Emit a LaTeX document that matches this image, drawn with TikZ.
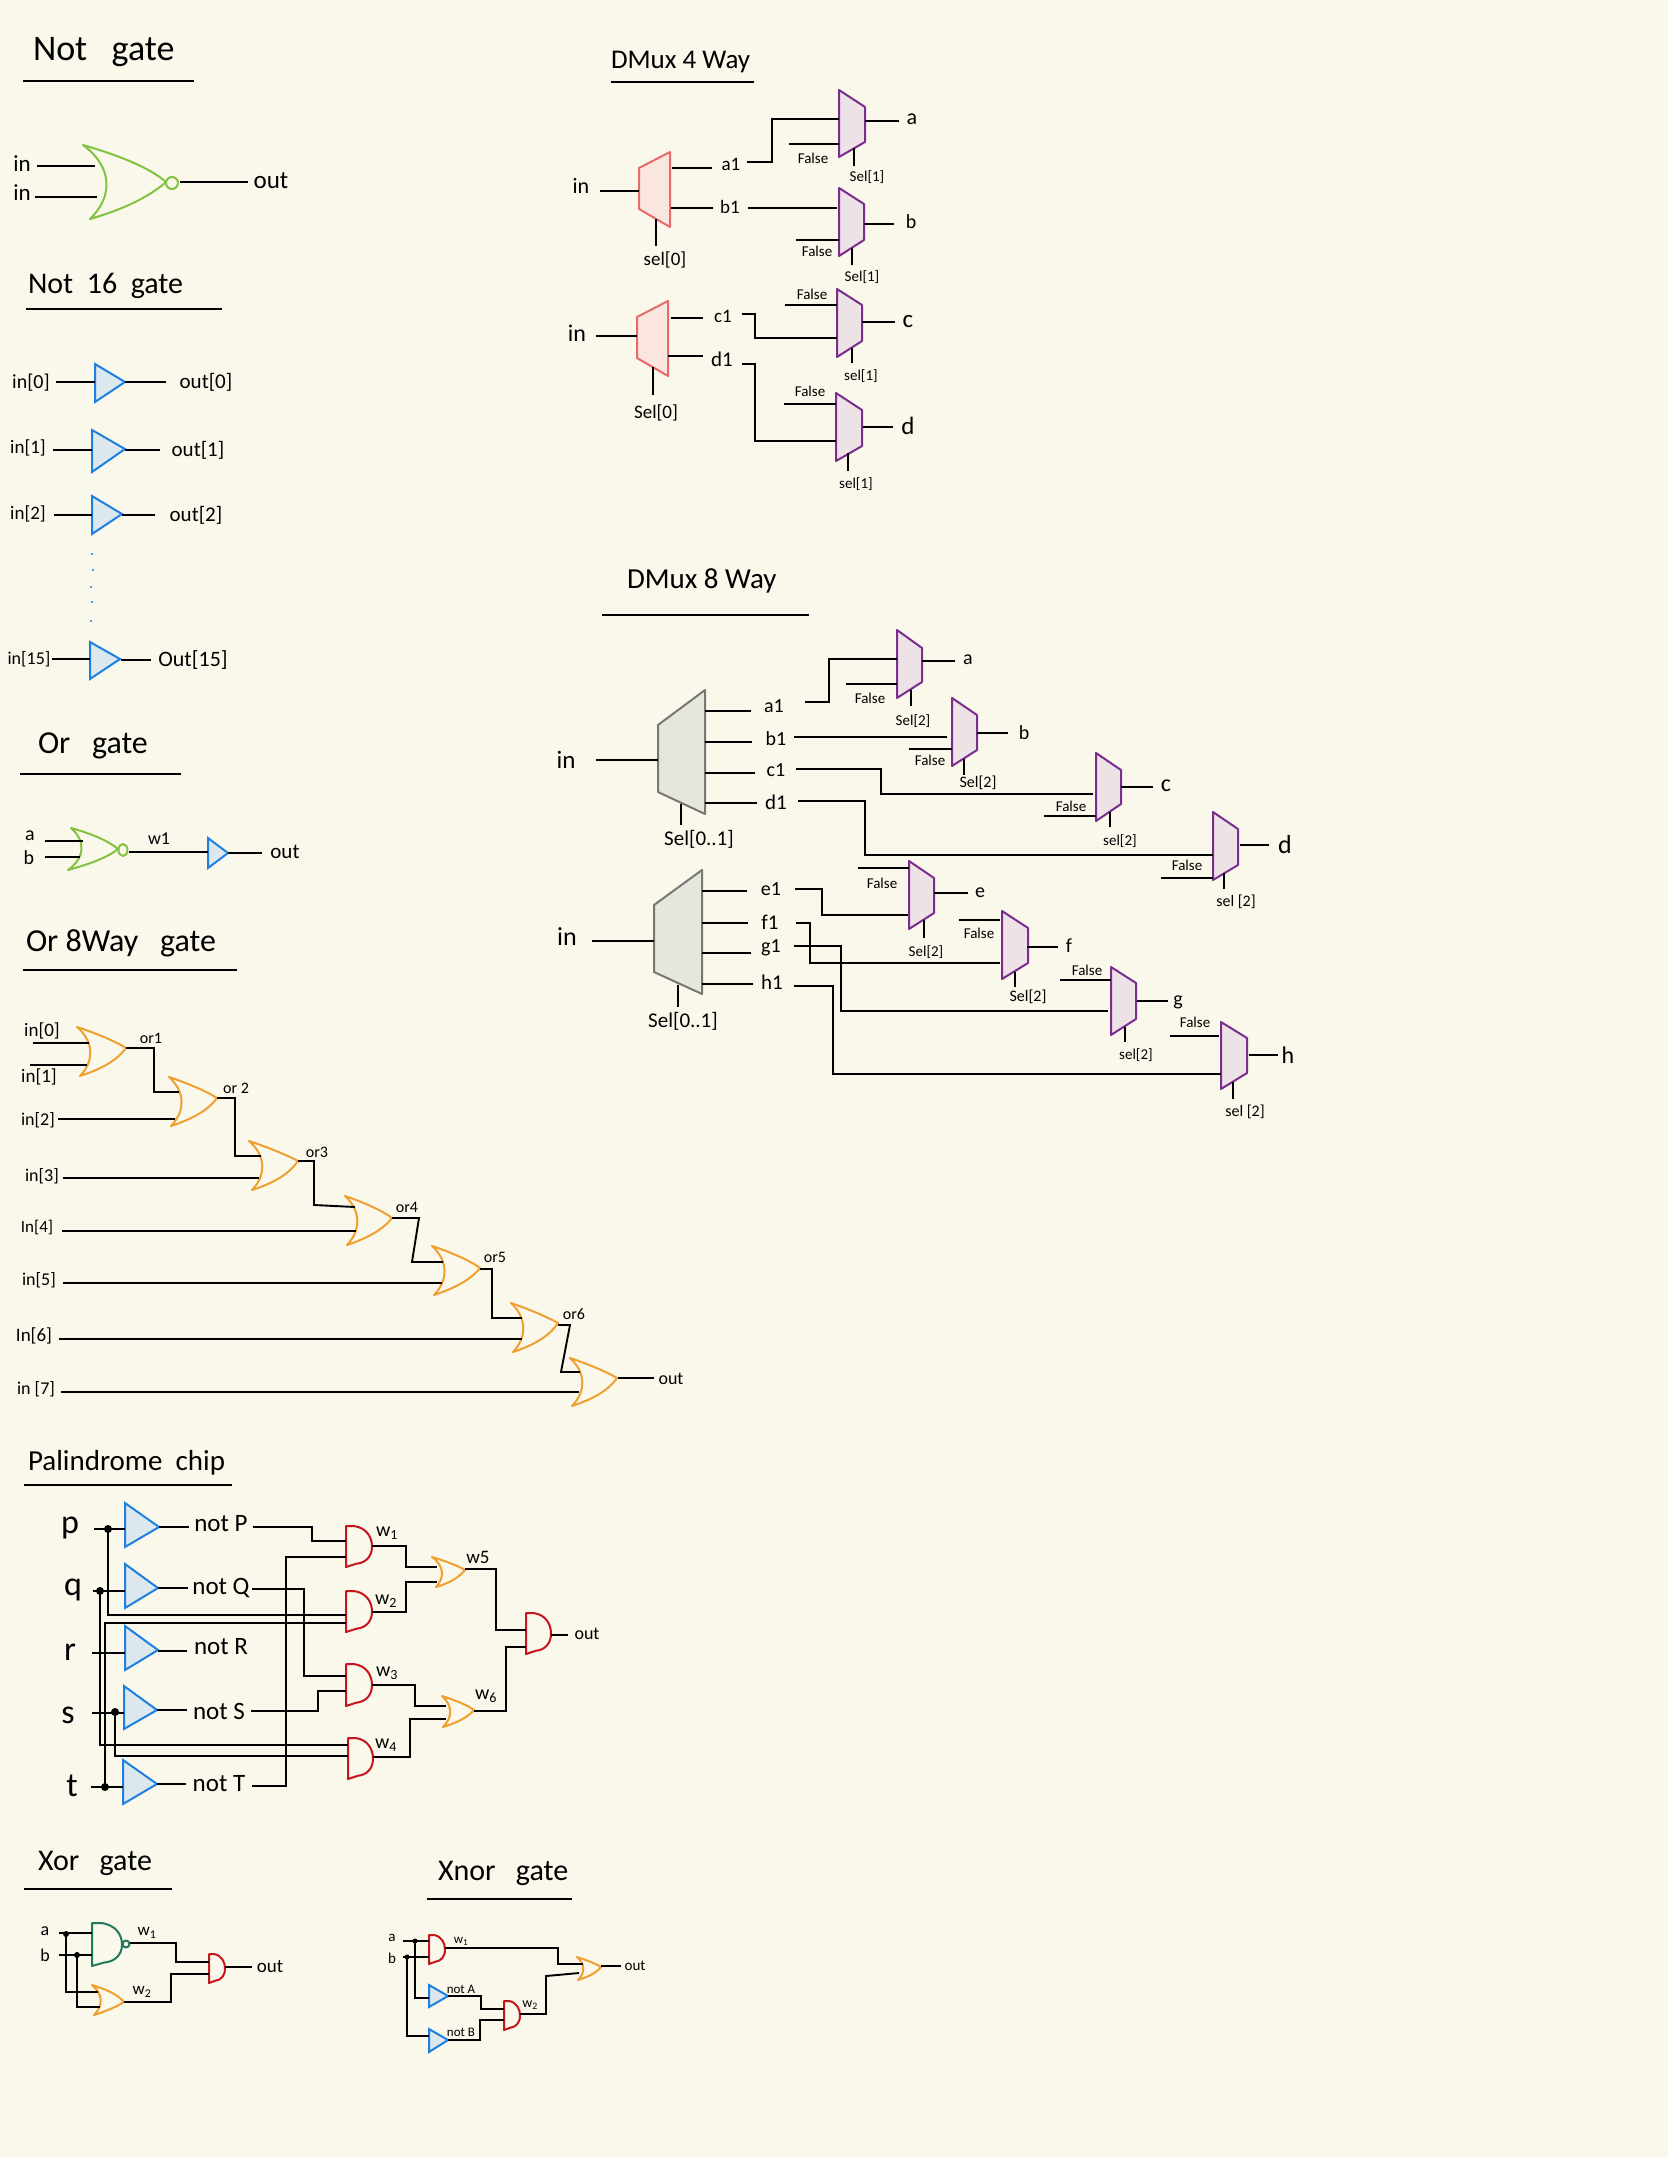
\documentclass[tikz,border=0pt]{standalone}
\usepackage{fontspec}
\setmainfont{Carlito}
\definecolor{paper}{HTML}{FAF7EB}
\definecolor{norgreen}{HTML}{82C341}
\definecolor{nandgreen}{HTML}{1F7A5C}
\definecolor{bufblue}{HTML}{1E80E0}
\definecolor{buffill}{HTML}{DCE8EE}
\definecolor{orange}{HTML}{F0A030}
\definecolor{andred}{HTML}{C4161C}
\definecolor{muxpurple}{HTML}{7B2D8E}
\definecolor{muxpfill}{HTML}{EDE3E6}
\definecolor{muxred}{HTML}{E96A6A}
\definecolor{muxrfill}{HTML}{FAE6DE}
\definecolor{muxgray}{HTML}{777777}
\definecolor{muxgfill}{HTML}{E6E6DC}
\tikzset{
  wire/.style={draw=black,line width=1.9pt,line join=miter},
  rulew/.style={draw=black,line width=2pt},
  gateline/.style={line width=2pt,line join=round},
  ghost/.style={inner sep=0pt,outer sep=0pt,draw=none},
  lab/.style={inner sep=0pt,outer sep=0pt,text=black},
  ttl/.style={inner sep=0pt,outer sep=0pt,text=black,anchor=west},
  junction/.style={circle,fill=black,inner sep=0pt,minimum size=8pt},
  bluedot/.style={circle,fill=bufblue,inner sep=0pt,minimum size=2.4pt},
  mp/.style={draw=muxpurple,fill=muxpfill,gateline},
  mr/.style={draw=muxred,fill=muxrfill,gateline},
  mg/.style={draw=muxgray,fill=muxgfill,gateline},
}
% label: name x y size text
\newcommand\lb[5]{\node[lab,font=\fontsize{#4}{#4}\selectfont] (#1) at (#2,#3) {#5};}
% title: name xleft y size text
\newcommand\tl[5]{\node[ttl,font=\fontsize{#4}{#4}\selectfont] (#1) at (#2,#3) {#5};}
% straight connector between named coordinates
\newcommand\wS[5]{\coordinate (#1-a) at (#2,#3); \coordinate (#1-b) at (#4,#5); \draw[wire] (#1-a) -- (#1-b);}
% horizontal-vertical-horizontal connector: name x1 y1 xbend x2 y2
\newcommand\wZ[6]{\coordinate (#1-a) at (#2,#3); \coordinate (#1-b) at (#5,#6); \draw[wire] (#1-a) -- (#4,0 |- #1-a) -- (#4,0 |- #1-b) -- (#1-b);}
% free four point connector
\newcommand\wQ[9]{\coordinate (#1-a) at (#2,#3); \coordinate (#1-b) at (#4,#5); \coordinate (#1-c) at (#6,#7); \coordinate (#1-d) at (#8,#9); \draw[wire] (#1-a) -- (#1-b) -- (#1-c) -- (#1-d);}
% OR shape: name colour TLx TLy BLx BLy Rx Ry
\newcommand\gOr[8]{%
  \pgfmathsetmacro\gw{#7-min(#3,#5)}\pgfmathsetmacro\gh{#6-#4}%
  \pgfmathsetmacro\gi{(#3+#5)/2+0.32*\gw}%
  \node[ghost,minimum width=\gw pt,minimum height=\gh pt] (#1) at ({#7-\gw/2},#8) {};
  \draw[draw=#2,gateline] (#3,#4) .. controls ({#3+.4*\gw},{#4+.13*\gh}) and ({#7-.2*\gw},{#4+.3*\gh}) .. (#7,#8)
     .. controls ({#7-.2*\gw},{#6-.3*\gh}) and ({#5+.4*\gw},{#6-.13*\gh}) .. (#5,#6)
     .. controls (\gi,{#6-.3*\gh}) and (\gi,{#4+.3*\gh}) .. cycle;}
% AND shape: name colour x1 x2 y1 y2
\newcommand\gAnd[6]{%
  \pgfmathsetmacro\gw{#4-#3}\pgfmathsetmacro\gh{#6-#5}%
  \node[ghost,minimum width=\gw pt,minimum height=\gh pt] (#1) at ({(#3+#4)/2},{(#5+#6)/2}) {};
  \draw[draw=#2,gateline] (#3,#5) -- ({#3+.3*\gw},#5) .. controls ({#3+.8*\gw},{#5+.04*\gh}) and (#4,{#5+.28*\gh}) .. (#4,{#5+.5*\gh})
     .. controls (#4,{#5+.75*\gh}) and ({#3+.75*\gw},{#5+.9*\gh}) .. ({#3+.4*\gw},{#5+.92*\gh}) -- (#3,#6) -- cycle;}
% buffer triangle: name x ytop ybot Rx Ry
\newcommand\gBuf[6]{%
  \node[ghost,minimum width=(#5-#2)*1pt,minimum height=(#4-#3)*1pt] (#1) at ({(#2+#5)/2},#6) {};
  \draw[draw=bufblue,fill=buffill,gateline,line join=miter] (#2,#3) -- (#5,#6) -- (#2,#4) -- cycle;}
% inversion bubble: name colour x y rx ry
\newcommand\gBub[6]{\node[ghost,minimum width=#5*2pt,minimum height=#6*2pt] (#1) at (#3,#4) {};
  \draw[draw=#2,gateline] (#3,#4) ellipse [x radius=#5pt,y radius=#6pt];}
% mux trapezium: name style xa ya1 ya2 xb yb1 yb2
\newcommand\gMux[8]{%
  \node[ghost,minimum width=abs(#6-#3)*1pt,minimum height=abs(#5-#4)*1pt] (#1) at ({(#3+#6)/2},{(#4+#5)/2}) {};
  \draw[#2] (#3,#4) -- (#6,#7) -- (#6,#8) -- (#3,#5) -- cycle;}
\begin{document}
\begin{tikzpicture}[x=1pt,y=-1pt]
\fill[paper] (0,0) rectangle (1668,2157);
\useasboundingbox (0,0) rectangle (1668,2157);

% ------------- Not gate
\tl{tNot}{33}{52}{36}{Not~~~gate}
\wS{uNot}{23}{81}{194}{81}
\gOr{nor1}{norgreen}{83}{145}{90}{219}{166}{182}
\gBub{nor1b}{norgreen}{172}{183}{6}{6}
\lb{nIn1}{22}{164}{23}{in}
\lb{nIn2}{22}{193}{23}{in}
\lb{nOut}{271}{181}{25}{out}
\wS{n1}{37}{166}{95}{166}
\wS{n2}{35}{197}{97}{197}
\wS{n3}{180}{182}{248}{182}

% ------------- Not 16
\tl{tNot16}{28}{286}{30}{Not~~16~~gate}
\wS{uNot16}{26}{309}{222}{309}
\gBuf{b0}{95}{364}{402}{125}{382}
\gBuf{b1}{92}{430}{472}{125}{449}
\gBuf{b2}{92}{496}{534}{122}{514}
\gBuf{b15}{90}{642}{679}{120}{659}
\wS{i0}{56}{382}{95}{382}\wS{o0}{125}{382}{166}{382}
\wS{i1}{53}{450}{92}{450}\wS{o1}{125}{450}{160}{450}
\wS{i2}{54}{515}{92}{515}\wS{o2}{122}{515}{155}{515}
\wS{i15}{52}{659}{90}{659}\wS{o15}{121}{660}{151}{660}
\lb{li0}{31}{383}{20}{in[0]}\lb{lo0}{206}{382}{21}{out[0]}
\lb{li1}{28}{448}{19}{in[1]}\lb{lo1}{198}{450}{21}{out[1]}
\lb{li2}{28}{514}{19}{in[2]}\lb{lo2}{196}{515}{21}{out[2]}
\lb{li15}{29}{659}{18}{in[15]}\lb{lo15}{193}{660}{22}{Out[15]}
\node[bluedot] (dot1) at (92,554) {};
\node[bluedot] (dot2) at (93,570) {};
\node[bluedot] (dot3) at (91,587) {};
\node[bluedot] (dot4) at (92,602) {};
\node[bluedot] (dot5) at (91,621) {};

% ------------- Or gate
\tl{tOr}{38}{746}{32}{Or~~~gate}
\wS{uOr}{20}{774}{181}{774}
\gOr{or0}{norgreen}{71}{828}{68}{870}{118}{849}
\gBub{or0b}{norgreen}{123}{850}{4.5}{6}
\gBuf{or0n}{208}{838}{868}{228}{853}
\wS{ora}{45}{841}{83}{841}\wS{orb}{45}{857}{80}{857}
\wS{orw}{129}{852}{208}{852}\wS{oro}{228}{853}{262}{853}
\lb{lora}{30}{836}{20}{a}\lb{lorb}{29}{858}{20}{b}
\lb{lorw}{159}{839}{18}{w1}\lb{loro}{285}{852}{21}{out}

% ------------- Or 8 way
\tl{tOr8}{26}{943}{32}{Or 8Way~~~gate}
\wS{uOr8}{23}{970}{237}{970}
\gOr{o1}{orange}{77}{1027}{80}{1076}{126}{1048}
\gOr{o2}{orange}{169}{1077}{171}{1126}{217}{1098}
\gOr{o3}{orange}{249}{1141}{252}{1190}{298}{1161}
\gOr{o4}{orange}{345}{1196}{347}{1245}{392}{1218}
\gOr{o5}{orange}{432}{1246}{434}{1295}{480}{1268}
\gOr{o6}{orange}{511}{1303}{513}{1352}{558}{1323}
\gOr{o7}{orange}{570}{1358}{572}{1406}{617}{1378}
\wS{x0}{33}{1043}{89}{1043}\wS{x1}{30}{1065}{87}{1065}
\wS{x2}{58}{1119}{175}{1119}\wS{x3}{63}{1178}{259}{1178}
\wS{x4}{62}{1231}{356}{1231}\wS{x5}{63}{1283}{442}{1283}
\wS{x6}{59}{1339}{522}{1339}\wS{x7}{61}{1392}{579}{1392}
\wZ{y1}{126}{1048}{154}{179}{1092}
\wZ{y2}{217}{1098}{235}{261}{1156}
\wQ{y3}{298}{1161}{314}{1161}{314}{1205}{355}{1207}
\wQ{y4}{392}{1218}{419}{1218}{412}{1262}{443}{1262}
\wZ{y5}{480}{1269}{492}{522}{1318}
\wQ{y6}{558}{1325}{570}{1325}{561}{1372}{580}{1372}
\wS{y7}{618}{1378}{654}{1378}
\lb{lx0}{42}{1031}{19}{in[0]}\lb{lx1}{39}{1077}{19}{in[1]}
\lb{lx2}{38}{1120}{18}{in[2]}\lb{lx3}{42}{1176}{18}{in[3]}
\lb{lx4}{37}{1227}{17}{In[4]}\lb{lx5}{39}{1280}{18}{in[5]}
\lb{lx6}{34}{1336}{19}{In[6]}\lb{lx7}{36}{1389}{18}{in [7]}
\lb{ly1}{151}{1038}{16}{or1}\lb{ly2}{236}{1088}{16}{or 2}
\lb{ly3}{317}{1152}{16}{or3}\lb{ly4}{407}{1207}{16}{or4}
\lb{ly5}{495}{1257}{16}{or5}\lb{ly6}{574}{1314}{16}{or6}
\lb{ly7}{671}{1379}{18}{out}

% ------------- Palindrome
\tl{tPal}{28}{1463}{29}{Palindrome~~chip}
\wS{uPal}{24}{1485}{232}{1485}
\gBuf{bp}{125}{1503}{1547}{159}{1527}
\gBuf{bq}{125}{1564}{1608}{158}{1588}
\gBuf{br}{125}{1626}{1670}{158}{1650}
\gBuf{bs}{124}{1686}{1729}{157}{1710}
\gBuf{bt}{123}{1760}{1804}{157}{1784}
\gAnd{a1}{andred}{346}{372}{1526}{1567}
\gAnd{a2}{andred}{346}{372}{1591}{1632}
\gAnd{a3}{andred}{346}{372}{1664}{1706}
\gAnd{a4}{andred}{348}{373}{1738}{1779}
\gAnd{a5}{andred}{526}{551}{1613}{1654}
\gOr{w5g}{orange}{432}{1557}{436}{1587}{465}{1570}
\gOr{w6g}{orange}{442}{1696}{443}{1727}{474}{1710}
\lb{lp}{70}{1528}{34}{p}\lb{lq}{73}{1590}{34}{q}\lb{lr}{70}{1652}{34}{r}
\lb{ls}{68}{1715}{34}{s}\lb{lt}{72}{1786}{34}{t}
\wS{pi}{94}{1529}{125}{1529}\wS{qi}{93}{1591}{125}{1591}\wS{ri}{92}{1653}{125}{1653}
\wS{si}{92}{1713}{124}{1713}\wS{ti}{91}{1787}{123}{1787}
\wS{po}{159}{1527}{189}{1527}\wS{qo}{158}{1588}{188}{1588}\wS{ro}{158}{1651}{187}{1651}
\wS{so}{157}{1710}{187}{1710}\wS{to}{157}{1784}{186}{1784}
\lb{lnp}{221}{1524}{25}{not P}\lb{lnq}{221}{1588}{25}{not Q}\lb{lnr}{221}{1647}{25}{not R}
\lb{lns}{219}{1711}{25}{not S}\lb{lnt}{219}{1784}{25}{not T}
\wZ{w1}{253}{1527}{312}{346}{1541}
\wZ{w2}{252}{1786}{286}{346}{1557}
\wZ{w3}{252}{1589}{304}{346}{1676}
\wZ{w4}{251}{1711}{318}{346}{1691}
\node[junction] (jp) at (108,1529) {};
\node[junction] (jq) at (100,1591) {};
\node[junction] (js) at (115,1712) {};
\node[junction] (jt) at (105,1787) {};
\coordinate (pe) at (346,1615);\draw[wire] (jp.center) |- (pe);
\coordinate (te) at (346,1623);\draw[wire] (jt.center) |- (te);
\coordinate (qe) at (348,1745);\draw[wire] (jq.center) |- (qe);
\coordinate (se) at (348,1756);\draw[wire] (js.center) |- (se);
\wZ{w5}{372}{1546}{406}{437}{1567}
\wZ{w6}{372}{1612}{406}{437}{1582}
\wZ{w7}{465}{1569}{496}{526}{1630}
\wZ{w8}{372}{1685}{415}{446}{1706}
\wZ{w9}{373}{1757}{410}{446}{1719}
\wZ{w10}{474}{1711}{506}{526}{1647}
\wS{w11}{551}{1635}{568}{1635}
\lb{lw1}{387}{1533}{20}{w\textsubscript{1}}\lb{lw2}{386}{1601}{20}{w\textsubscript{2}}
\lb{lw3}{387}{1673}{20}{w\textsubscript{3}}\lb{lw4}{386}{1745}{20}{w\textsubscript{4}}
\lb{lw5}{478}{1557}{19}{w5}\lb{lw6}{486}{1696}{20}{w\textsubscript{6}}
\lb{lpo}{587}{1634}{18}{out}

% ------------- Xor
\tl{tXor}{38}{1863}{30}{Xor~~~gate}
\wS{uXor}{24}{1889}{172}{1889}
\gAnd{xn}{nandgreen}{92}{122}{1923}{1966}
\gBub{xnb}{nandgreen}{126}{1944}{3.5}{3.5}
\gOr{xo}{orange}{92}{1985}{94}{2015}{124}{2002}
\gAnd{xa}{andred}{209}{225}{1954}{1983}
\lb{lxa}{45}{1931}{18}{a}\lb{lxb}{45}{1955}{18}{b}
\wS{xai}{59}{1933}{92}{1933}\wS{xbi}{59}{1955}{92}{1955}
\node[junction,minimum size=6pt] (jxa) at (66,1934) {};
\node[junction,minimum size=6pt] (jxb) at (77,1955) {};
\coordinate (xae) at (98,1992);\draw[wire] (jxa.center) |- (xae);
\coordinate (xbe) at (100,2007);\draw[wire] (jxb.center) |- (xbe);
\wZ{xw1}{130}{1943}{176}{209}{1962}
\wZ{xw2}{124}{2002}{171}{209}{1974}
\wS{xout}{225}{1967}{252}{1967}
\lb{lxo}{270}{1967}{19}{out}
\lb{lxw1}{147}{1933}{17}{w\textsubscript{1}}\lb{lxw2}{142}{1992}{17}{w\textsubscript{2}}

% ------------- Xnor
\tl{tXnor}{438}{1873}{30}{Xnor~~~gate}
\wS{uXnor}{427}{1899}{572}{1899}
\gAnd{na1}{andred}{429}{445}{1935}{1964}
\gAnd{na2}{andred}{504}{520}{2001}{2030}
\gBuf{nba}{429}{1985}{2007}{448}{1996}
\gBuf{nbb}{429}{2029}{2052}{448}{2040}
\gOr{nor2}{orange}{577}{1957}{578}{1980}{601}{1967}
\lb{lna}{392}{1938}{15}{a}\lb{lnb}{392}{1958}{15}{b}
\wS{nai}{403}{1941}{429}{1941}\wS{nbi}{403}{1957}{429}{1957}
\node[junction,minimum size=5pt] (jna) at (415,1941) {};
\node[junction,minimum size=5pt] (jnb) at (407,1957) {};
\coordinate (nae) at (429,1998);\draw[wire] (jna.center) |- (nae);
\coordinate (nbe) at (429,2036);\draw[wire] (jnb.center) |- (nbe);
\wZ{nw1}{445}{1948}{558}{583}{1964}
\wZ{nw2}{448}{1996}{481}{504}{2009}
\wZ{nw3}{448}{2040}{480}{504}{2020}
\wQ{nw4}{520}{2014}{546}{2014}{546}{1976}{579}{1973}
\wS{nout}{601}{1966}{621}{1966}
\lb{lnw1}{461}{1941}{13}{w\textsubscript{1}}\lb{lnw2}{530}{2005}{14}{w\textsubscript{2}}
\lb{lnna}{461}{1989}{13}{not A}\lb{lnnb}{461}{2032}{13}{not B}
\lb{lnou}{635}{1966}{15}{out}

% ------------- DMux 4 way
\tl{tD4}{611}{62}{27}{DMux 4 Way}
\wS{uD4}{611}{82}{754}{82}
\gMux{r1}{mr}{639}{168}{209}{670}{152}{227}
\gMux{r2}{mr}{637}{317}{358}{668}{301}{376}
\gMux{d4a}{mp}{839}{90}{157}{865}{107}{142}
\gMux{d4b}{mp}{839}{188}{256}{864}{204}{240}
\gMux{d4c}{mp}{837}{289}{357}{862}{305}{341}
\gMux{d4d}{mp}{836}{393}{461}{862}{410}{446}
\lb{l4i1}{581}{186}{22}{in}\lb{l4i2}{577}{333}{24}{in}
\wS{e1}{600}{191}{639}{191}\wS{e2}{596}{336}{637}{336}
\wS{e3}{672}{168}{712}{168}\wS{e4}{671}{208}{713}{208}
\wS{e5}{671}{318}{703}{318}\wS{e6}{668}{356}{703}{356}
\lb{l4a}{731}{164}{19}{a1}\lb{l4b}{730}{207}{19}{b1}\lb{l4c}{723}{316}{19}{c1}\lb{l4d}{722}{359}{21}{d1}
\wS{e7}{656}{219}{656}{246}\wS{e8}{653}{367}{653}{395}
\lb{l4s1}{665}{260}{19}{sel[0]}\lb{l4s2}{656}{413}{19}{Sel[0]}
\wZ{f1}{747}{162}{772}{839}{119}
\wS{f2}{748}{208}{837}{208}
\wZ{f3}{742}{314}{755}{837}{338}
\wZ{f4}{742}{364}{755}{836}{441}
\wS{g1}{789}{144}{839}{144}\wS{g2}{796}{240}{839}{240}\wS{g3}{785}{305}{837}{305}\wS{g4}{784}{404}{836}{404}
\lb{lf1}{813}{158}{15}{False}\lb{lf2}{817}{251}{15}{False}\lb{lf3}{812}{294}{15}{False}\lb{lf4}{810}{391}{15}{False}
\wS{h1}{865}{121}{899}{121}\wS{h2}{864}{224}{894}{224}\wS{h3}{862}{322}{895}{322}\wS{h4}{863}{427}{893}{427}
\lb{la}{912}{119}{22}{a}\lb{lb}{911}{222}{20}{b}\lb{lc}{908}{322}{25}{c}\lb{ld}{908}{426}{25}{d}
\wS{k1}{854}{148}{854}{166}\wS{k2}{852}{248}{852}{265}\wS{k3}{852}{348}{852}{363}\wS{k4}{848}{453}{848}{471}
\lb{ls1}{867}{177}{15}{Sel[1]}\lb{ls2}{862}{277}{15}{Sel[1]}\lb{ls3}{861}{376}{15}{sel[1]}\lb{ls4}{856}{484}{15}{sel[1]}

% ------------- DMux 8 way
\tl{tD8}{627}{581}{29}{DMux 8 Way}
\wS{uD8}{602}{615}{809}{615}
\gMux{g1m}{mg}{658}{725}{792}{705}{690}{814}
\gMux{g2m}{mg}{654}{905}{972}{702}{870}{994}
\lb{l8i1}{566}{760}{25}{in}\lb{l8i2}{567}{937}{26}{in}
\wS{p1}{596}{760}{658}{760}\wS{p2}{592}{941}{654}{941}
\wS{q1}{705}{711}{751}{711}\wS{q2}{705}{742}{752}{742}\wS{q3}{705}{773}{755}{773}\wS{q4}{705}{803}{757}{803}
\wS{q5}{702}{891}{747}{891}\wS{q6}{702}{923}{748}{923}\wS{q7}{702}{953}{751}{953}\wS{q8}{702}{984}{753}{984}
\lb{l8a}{774}{706}{20}{a1}\lb{l8b}{776}{739}{20}{b1}\lb{l8c}{776}{770}{20}{c1}\lb{l8d}{776}{802}{21}{d1}
\lb{l8e}{771}{889}{20}{e1}\lb{l8f}{770}{922}{21}{f1}\lb{l8g}{771}{948}{20}{g1}\lb{l8h}{772}{982}{21}{h1}
\wS{r1s}{681}{804}{681}{825}\wS{r2s}{678}{985}{678}{1007}
\lb{l8s1}{699}{839}{21}{Sel[0..1]}\lb{l8s2}{683}{1021}{21}{Sel[0..1]}
\gMux{m8a}{mp}{897}{630}{698}{922}{648}{682}
\gMux{m8b}{mp}{952}{698}{766}{977}{715}{750}
\gMux{m8c}{mp}{1096}{753}{821}{1121}{770}{804}
\gMux{m8d}{mp}{1213}{812}{880}{1238}{829}{865}
\gMux{m8e}{mp}{909}{861}{929}{934}{878}{913}
\gMux{m8f}{mp}{1002}{911}{979}{1028}{928}{963}
\gMux{m8g}{mp}{1111}{967}{1035}{1136}{983}{1019}
\gMux{m8h}{mp}{1221}{1022}{1089}{1247}{1038}{1073}
\wZ{t1}{805}{702}{829}{897}{659}
\wS{t2}{794}{737}{947}{737}
\wZ{t3}{796}{769}{881}{1093}{794}
\wZ{t4}{798}{801}{865}{1213}{855}
\wZ{t5}{795}{889}{822}{908}{915}
\wZ{t6}{796}{923}{810}{1000}{963}
\wZ{t7}{794}{946}{841}{1108}{1011}
\wZ{t8}{794}{986}{833}{1221}{1074}
\wS{u1}{846}{684}{897}{684}\wS{u2}{909}{749}{952}{749}\wS{u3}{1044}{816}{1096}{816}\wS{u4}{1161}{878}{1213}{878}
\wS{u5}{858}{868}{909}{868}\wS{u6}{959}{920}{1000}{920}\wS{u7}{1060}{980}{1111}{980}\wS{u8}{1170}{1036}{1219}{1036}
\lb{lu1}{870}{698}{15}{False}\lb{lu2}{930}{760}{15}{False}\lb{lu3}{1071}{806}{15}{False}\lb{lu4}{1187}{865}{15}{False}
\lb{lu5}{882}{883}{15}{False}\lb{lu6}{979}{933}{15}{False}\lb{lu7}{1087}{970}{15}{False}\lb{lu8}{1195}{1022}{15}{False}
\wS{v1}{922}{661}{955}{661}\wS{v2}{977}{733}{1008}{733}\wS{v3}{1121}{787}{1153}{787}\wS{v4}{1240}{845}{1269}{845}
\wS{v5}{934}{893}{968}{893}\wS{v6}{1027}{947}{1058}{947}\wS{v7}{1137}{1001}{1168}{1001}\wS{v8}{1249}{1055}{1278}{1055}
\lb{lv1}{968}{660}{20}{a}\lb{lv2}{1024}{733}{20}{b}\lb{lv3}{1166}{786}{24}{c}\lb{lv4}{1285}{845}{26}{d}
\lb{lv5}{980}{893}{20}{e}\lb{lv6}{1069}{946}{20}{f}\lb{lv7}{1178}{1002}{20}{g}\lb{lv8}{1288}{1055}{24}{h}
\wS{z1}{911}{690}{911}{706}\wS{z2}{964}{759}{964}{775}\wS{z3}{1110}{812}{1110}{827}\wS{z4}{1224}{873}{1224}{889}
\wS{z5}{924}{920}{924}{938}\wS{z6}{1015}{972}{1015}{987}\wS{z7}{1125}{1027}{1125}{1042}\wS{z8}{1233}{1082}{1233}{1099}
\lb{lz1}{913}{721}{15}{Sel[2]}\lb{lz2}{978}{783}{16}{Sel[2]}\lb{lz3}{1120}{841}{15}{sel[2]}\lb{lz4}{1236}{902}{16}{sel [2]}
\lb{lz5}{926}{952}{15}{Sel[2]}\lb{lz6}{1028}{997}{16}{Sel[2]}\lb{lz7}{1136}{1055}{15}{sel[2]}\lb{lz8}{1245}{1112}{16}{sel [2]}
\end{tikzpicture}
\end{document}
